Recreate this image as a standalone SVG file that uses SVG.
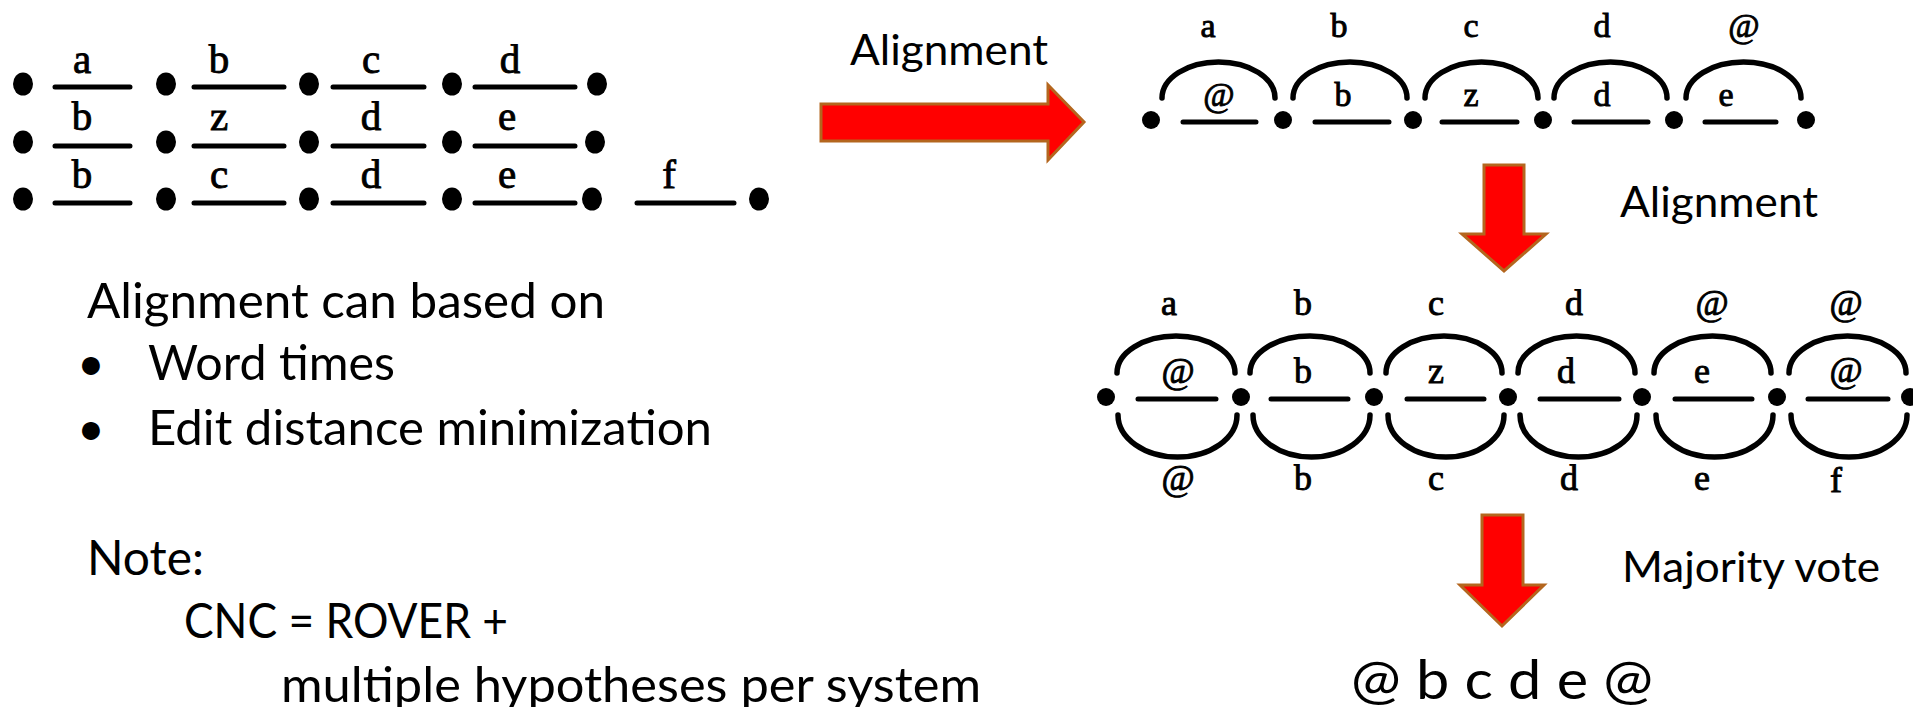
<svg xmlns="http://www.w3.org/2000/svg" width="1913" height="707" viewBox="0 0 1913 707">
<style>
.lbl{font-family:"Liberation Serif","Times New Roman",serif;fill:#000;stroke:#000;stroke-width:0.9;text-anchor:middle}
.l1{font-size:41px}
.l2{font-size:34px}
.l3{font-size:36px}
.txt{font-family:Lato,"Open Sans","Liberation Sans",sans-serif;fill:#000}
.edge{stroke:#000;stroke-width:5;stroke-linecap:round;fill:none}
.arc{stroke:#000;stroke-width:5.5;stroke-linecap:round;fill:none}
.dot{fill:#000}
.big{fill:#FF0000;stroke:#B4661E;stroke-width:3;stroke-linejoin:miter}
</style>
<rect width="1913" height="707" fill="#fff"/>

<g id="hypotheses">
  <g id="row1">
    <ellipse class="dot" cx="23" cy="84" rx="10" ry="11.5"/><ellipse class="dot" cx="166" cy="84" rx="10" ry="11.5"/><ellipse class="dot" cx="309" cy="84" rx="10" ry="11.5"/><ellipse class="dot" cx="452" cy="84" rx="10" ry="11.5"/><ellipse class="dot" cx="597" cy="84" rx="10" ry="11.5"/>
    <path class="edge" d="M55,87H130M194,87H284M333,87H424M475,87H575"/>
    <text class="lbl l1" x="82" y="73">a</text><text class="lbl l1" x="219" y="73">b</text><text class="lbl l1" x="371" y="73">c</text><text class="lbl l1" x="510" y="73">d</text>
  </g>
  <g id="row2">
    <ellipse class="dot" cx="23" cy="142" rx="10" ry="11.5"/><ellipse class="dot" cx="166" cy="142" rx="10" ry="11.5"/><ellipse class="dot" cx="309" cy="142" rx="10" ry="11.5"/><ellipse class="dot" cx="452" cy="142" rx="10" ry="11.5"/><ellipse class="dot" cx="595" cy="142" rx="10" ry="11.5"/>
    <path class="edge" d="M55,146H130M194,146H284M333,146H424M475,146H575"/>
    <text class="lbl l1" x="82" y="130">b</text><text class="lbl l1" x="219" y="130">z</text><text class="lbl l1" x="371" y="130">d</text><text class="lbl l1" x="507" y="130">e</text>
  </g>
  <g id="row3">
    <ellipse class="dot" cx="23" cy="199" rx="10" ry="11.5"/><ellipse class="dot" cx="166" cy="199" rx="10" ry="11.5"/><ellipse class="dot" cx="309" cy="199" rx="10" ry="11.5"/><ellipse class="dot" cx="452" cy="199" rx="10" ry="11.5"/><ellipse class="dot" cx="592" cy="199" rx="10" ry="11.5"/><ellipse class="dot" cx="759" cy="199" rx="10" ry="11.5"/>
    <path class="edge" d="M55,203H130M194,203H284M333,203H424M475,203H575M637,203H734"/>
    <text class="lbl l1" x="82" y="188">b</text><text class="lbl l1" x="219" y="188">c</text><text class="lbl l1" x="371" y="188">d</text><text class="lbl l1" x="507" y="188">e</text><text class="lbl l1" x="669" y="188">f</text>
  </g>
</g>

<g id="aligned-pair">
  <circle class="dot" cx="1151" cy="120" r="9"/><circle class="dot" cx="1283" cy="120" r="9"/><circle class="dot" cx="1413" cy="120" r="9"/><circle class="dot" cx="1543" cy="120" r="9"/><circle class="dot" cx="1674" cy="120" r="9"/><circle class="dot" cx="1806" cy="120" r="9"/>
  <path class="edge" d="M1183,122H1256M1315,122H1389M1442,122H1517M1574,122H1648M1705,122H1776"/>
  <path class="arc" d="M1162,98A56.5,36 0 0 1 1275,98M1293,98A57,36 0 0 1 1407,98M1425,98A56.5,36 0 0 1 1538,98M1554,98A56.5,36 0 0 1 1667,98M1686,98A57.5,36 0 0 1 1801,98"/>
  <text class="lbl l2" x="1208" y="37">a</text><text class="lbl l2" x="1339" y="37">b</text><text class="lbl l2" x="1471" y="37">c</text><text class="lbl l2" x="1602" y="37">d</text><text class="lbl l2" x="1744" y="37">@</text>
  <text class="lbl l2" x="1219" y="106">@</text><text class="lbl l2" x="1343" y="106">b</text><text class="lbl l2" x="1471" y="106">z</text><text class="lbl l2" x="1602" y="106">d</text><text class="lbl l2" x="1726" y="106">e</text>
</g>

<g id="confusion-network">
  <circle class="dot" cx="1106" cy="397" r="9"/><circle class="dot" cx="1241" cy="397" r="9"/><circle class="dot" cx="1374" cy="397" r="9"/><circle class="dot" cx="1508" cy="397" r="9"/><circle class="dot" cx="1642" cy="397" r="9"/><circle class="dot" cx="1777" cy="397" r="9"/><circle class="dot" cx="1910" cy="397" r="9"/>
  <path class="edge" d="M1138,399H1216M1271,399H1348M1407,399H1484M1540,399H1619M1675,399H1752M1808,399H1888"/>
  <path class="arc" d="M1117,373A59,37 0 0 1 1235,373M1250,373A60,37 0 0 1 1370,373M1386,373A58,37 0 0 1 1502,373M1518,373A58.5,37 0 0 1 1635,373M1654,373A58.5,37 0 0 1 1771,373M1789,373A58.5,37 0 0 1 1906,373"/>
  <path class="arc" d="M1118,415A59.5,42 0 0 0 1237,415M1253,415A58.5,42 0 0 0 1370,415M1388,415A58,42 0 0 0 1504,415M1520,415A58.5,42 0 0 0 1637,415M1656,415A58.5,42 0 0 0 1773,415M1791,415A58,42 0 0 0 1907,415"/>
  <text class="lbl l3" x="1169" y="315">a</text><text class="lbl l3" x="1303" y="315">b</text><text class="lbl l3" x="1436" y="315">c</text><text class="lbl l3" x="1574" y="315">d</text><text class="lbl l3" x="1712" y="315">@</text><text class="lbl l3" x="1846" y="315">@</text>
  <text class="lbl l3" x="1178" y="383">@</text><text class="lbl l3" x="1303" y="383">b</text><text class="lbl l3" x="1436" y="383">z</text><text class="lbl l3" x="1566" y="383">d</text><text class="lbl l3" x="1702" y="383">e</text><text class="lbl l3" x="1846" y="382">@</text>
  <text class="lbl l3" x="1178" y="490">@</text><text class="lbl l3" x="1303" y="490">b</text><text class="lbl l3" x="1436" y="490">c</text><text class="lbl l3" x="1569" y="490">d</text><text class="lbl l3" x="1702" y="490">e</text><text class="lbl l3" x="1836" y="492">f</text>
</g>

<g id="connectors">
  <polygon class="big" points="821,104 1048,104 1048,85 1084,122 1048,160 1048,141 821,141"/>
  <polygon class="big" points="1484,165 1524,165 1524,234 1546,234 1504,271 1462,234 1484,234"/>
  <polygon class="big" points="1482,515 1523,515 1523,585 1544,585 1502,626 1460,585 1482,585"/>
</g>

<g id="step-labels">
  <text class="txt" x="850" y="65" font-size="42" textLength="198" lengthAdjust="spacingAndGlyphs">Alignment</text>
  <text class="txt" x="1620" y="217" font-size="42" textLength="198" lengthAdjust="spacingAndGlyphs">Alignment</text>
  <text class="txt" x="1622" y="582" font-size="42" textLength="258" lengthAdjust="spacingAndGlyphs">Majority vote</text>
</g>

<g id="result">
  <text class="txt" x="1351" y="699" font-size="54" textLength="302" lengthAdjust="spacingAndGlyphs">@ b c d e @</text>
</g>

<g id="notes">
  <text class="txt" x="87" y="318" font-size="48" textLength="518" lengthAdjust="spacingAndGlyphs">Alignment can based on</text>
  <text class="txt" x="77" y="380" font-size="48">•</text>
  <text class="txt" x="148" y="380" font-size="48" textLength="247" lengthAdjust="spacingAndGlyphs">Word times</text>
  <text class="txt" x="77" y="445" font-size="48">•</text>
  <text class="txt" x="148" y="445" font-size="48" textLength="564" lengthAdjust="spacingAndGlyphs">Edit distance minimization</text>
  <text class="txt" x="87" y="575" font-size="48" textLength="117" lengthAdjust="spacingAndGlyphs">Note:</text>
  <text class="txt" x="184" y="638" font-size="48" textLength="324" lengthAdjust="spacingAndGlyphs">CNC = ROVER +</text>
  <text class="txt" x="281" y="702" font-size="48" textLength="700" lengthAdjust="spacingAndGlyphs">multiple hypotheses per system</text>
</g>
</svg>
